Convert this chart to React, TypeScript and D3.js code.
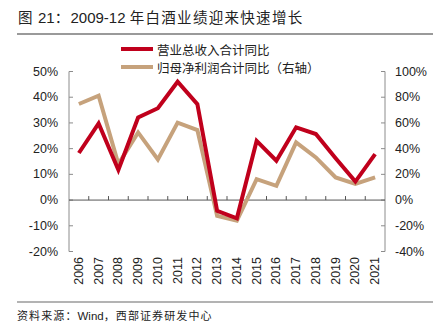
import React from "react";
import * as d3 from "d3";

const years = ["2006","2007","2008","2009","2010","2011","2012","2013","2014","2015","2016","2017","2018","2019","2020","2021"];
const revenueYoY = [18.3, 29.8, 11.7, 32.1, 35.7, 46.0, 37.3, -4.2, -7.1, 23.0, 15.3, 28.3, 25.7, 16.3, 7.2, 17.9];
const profitYoY = [74.7, 81.2, 28.0, 52.6, 31.6, 60.2, 54.5, -12.2, -16.1, 16.3, 11.1, 44.8, 33.2, 17.6, 12.5, 17.6];
const leftTicks = [-20, -10, 0, 10, 20, 30, 40, 50];
const rightTicks = [-40, -20, 0, 20, 40, 60, 80, 100];
const seriesNames = ["营业总收入合计同比", "归母净利润合计同比（右轴）"];
// title / source split into [text, isLatin] parts
const titleParts: [string, boolean][] = [["图", false], [" 21", true], ["：", false], ["2009-12 ", true], ["年白酒业绩迎来快速增长", false]];
const sourceParts: [string, boolean][] = [["资料来源：", false], ["Wind", true], ["，西部证券研发中心", false]];

const RED = "#C0001C";
const TAN = "#C6A27C";
const FONT = "'Liberation Sans', Arial, sans-serif";
const CJK = "'Noto Sans CJK SC', sans-serif";

export default function App() {
  const left = 69, right = 385, top = 71.5, bottom = 251.5;
  const x = d3.scaleBand<string>().domain(years).range([left, right]).padding(0);
  const cx = (d: string) => (x(d) as number) + x.bandwidth() / 2;
  const yL = d3.scaleLinear().domain([-20, 50]).range([bottom, top]);
  const yR = d3.scaleLinear().domain([-40, 100]).range([bottom, top]);
  const lineL = d3.line<number>().x((_, i) => cx(years[i])).y((v) => yL(v));
  const lineR = d3.line<number>().x((_, i) => cx(years[i])).y((v) => yR(v));
  const axisColor = "#8c8c8c";
  const y0 = yL(0);

  return (
    <svg width={441} height={336} style={{ position: "absolute", left: 0, top: 0, background: "#fff" }}>
      <text x={18} y={23} fill="#222" style={{ whiteSpace: "pre" }}>
        {titleParts.map(([t, latin], i) => (
          <tspan key={i} fontFamily={latin ? FONT : CJK} fontSize={latin ? 15 : 14.5} letterSpacing={latin ? 0 : 1.3}>{t}</tspan>
        ))}
      </text>
      <line x1={17} x2={433} y1={34} y2={34} stroke="#9a9a9a" strokeWidth={2} />

      {/* axes */}
      <line x1={left} x2={left} y1={top} y2={bottom} stroke={axisColor} strokeWidth={1} />
      <line x1={right} x2={right} y1={top} y2={bottom} stroke={axisColor} strokeWidth={1} />
      {leftTicks.map((t) => (
        <g key={"l" + t}>
          <line x1={left} x2={left + 4} y1={yL(t)} y2={yL(t)} stroke={axisColor} />
          <text x={58} y={yL(t)} textAnchor="end" dominantBaseline="central" fontFamily={FONT} fontSize={12.5} fill="#222">{t}%</text>
        </g>
      ))}
      {rightTicks.map((t) => (
        <g key={"r" + t}>
          <line x1={right - 4} x2={right} y1={yR(t)} y2={yR(t)} stroke={axisColor} />
          <text x={395} y={yR(t)} textAnchor="start" dominantBaseline="central" fontFamily={FONT} fontSize={12.5} fill="#222">{t}%</text>
        </g>
      ))}
      <line x1={left} x2={right} y1={y0} y2={y0} stroke="#555" strokeWidth={1} />
      {years.slice(1).map((yv) => (
        <line key={"xt" + yv} x1={x(yv) as number} x2={x(yv) as number} y1={y0 - 4} y2={y0} stroke="#555" />
      ))}
      {years.map((yv) => (
        <text key={"xl" + yv} transform={`translate(${cx(yv)},257) rotate(-90)`} textAnchor="end" dominantBaseline="central" fontFamily={FONT} fontSize={12.5} fill="#222">{yv}</text>
      ))}

      {/* series */}
      <path d={lineR(profitYoY) || ""} fill="none" stroke={TAN} strokeWidth={4} strokeLinejoin="miter" />
      <path d={lineL(revenueYoY) || ""} fill="none" stroke={RED} strokeWidth={4} strokeLinejoin="miter" />

      {/* legend */}
      <line x1={121} x2={153} y1={49} y2={49} stroke={RED} strokeWidth={4} />
      <text x={157} y={49} dominantBaseline="central" fontFamily={CJK} fontSize={12.5} fill="#222">{seriesNames[0]}</text>
      <line x1={121} x2={153} y1={67} y2={67} stroke={TAN} strokeWidth={4} />
      <text x={157} y={67} dominantBaseline="central" fontFamily={CJK} fontSize={12.5} fill="#222">{seriesNames[1]}</text>

      <line x1={17} x2={433} y1={302} y2={302} stroke="#9a9a9a" strokeWidth={1.5} />
      <text x={17} y={320} fill="#222">
        {sourceParts.map(([t, latin], i) => (
          <tspan key={i} fontFamily={latin ? FONT : CJK} fontSize={latin ? 11.5 : 11} letterSpacing={latin ? 0 : 1.1}>{t}</tspan>
        ))}
      </text>
    </svg>
  );
}
